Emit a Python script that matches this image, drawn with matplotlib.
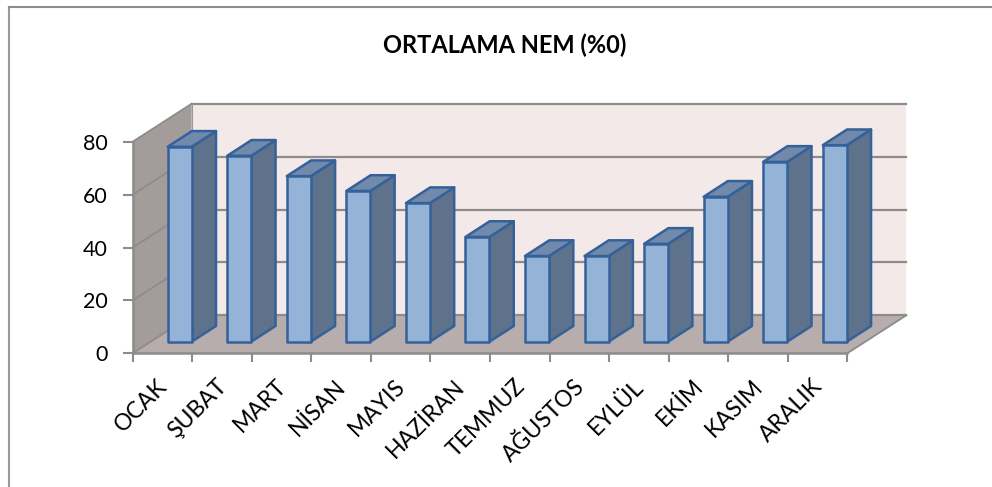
import numpy as np
import matplotlib
matplotlib.use('Agg')
import matplotlib.pyplot as plt
from matplotlib.lines import Line2D
from matplotlib.patches import Polygon

plt.rcParams['font.family'] = ['Lato', 'DejaVu Sans']

aylar = ['OCAK', 'ŞUBAT', 'MART', 'NİSAN', 'MAYIS', 'HAZİRAN',
         'TEMMUZ', 'AĞUSTOS', 'EYLÜL', 'EKİM', 'KASIM', 'ARALIK']
nem = [73.7, 70.3, 62.6, 57, 52.4, 39.6, 32.4, 32.4, 37, 54.8, 68, 74.3]
y_ticks = [0, 20, 40, 60, 80]

W, H = 992, 487
fig = plt.figure(figsize=(W / 100, H / 100), dpi=100)

# pixel box of the front plane of the chart
x0, x1 = 132.7, 847.3
y0, y1 = 353.3, 141.7
ax = fig.add_axes([x0 / W, 1 - y0 / H, (x1 - x0) / W, (y0 - y1) / H])
ax.set_xlim(0, 12)
ax.set_ylim(0, 80)
ax.patch.set_visible(False)
for s in ax.spines.values():
    s.set_visible(False)

# sahte 3B: derinlik kaymasi (kategori / deger biriminde)
px_x = 12 / (x1 - x0)
px_y = 80 / (y0 - y1)
dx = 59 * px_x
dy = 38 * px_y

grey = '#8c8c8c'


def poly(pts, fc, ec='none', lw=0, z=1):
    ax.add_patch(Polygon(pts, closed=True, fc=fc, ec=ec, lw=lw, zorder=z,
                         clip_on=False, joinstyle='round'))


# duvarlar
poly([(0, 0), (dx, dy), (dx, 80 + dy), (0, 80)], '#a39c9a', z=1)
poly([(dx, dy), (12 + dx, dy), (12 + dx, 80 + dy), (dx, 80 + dy)], '#f4e9e9', z=1)
poly([(0, 0), (12, 0), (12 + dx, dy), (dx, dy)], '#b6adac', z=1)

# izgara
for v in y_ticks:
    ax.plot([0, dx], [v, v + dy], color=grey, lw=1.3, zorder=2, clip_on=False)
    ax.plot([dx, 12 + dx], [v + dy, v + dy], color=grey, lw=1.6, zorder=2, clip_on=False)
ax.plot([dx, dx], [dy, 80 + dy], color='#9a9a9a', lw=0.8, zorder=2, clip_on=False)
ax.plot([0, 0], [0, 80], color=grey, lw=1.8, zorder=3, clip_on=False)
ax.plot([0, 12], [0, 0], color=grey, lw=1.8, zorder=3, clip_on=False)
ax.plot([12, 12 + dx], [0, dy], color=grey, lw=1.3, zorder=3, clip_on=False)

# cubuklar
bar_w = 24 * px_x
bar_dx = 24.3 * px_x
bar_dy = 15.7 * px_y
base_x = 35 * px_x
base_y = 11.6 * px_y
edge = '#35619a'
for i, v in enumerate(nem):
    l = i + base_x
    r = l + bar_w
    b = base_y
    t = b + v
    poly([(r, b), (r + bar_dx, b + bar_dy), (r + bar_dx, t + bar_dy), (r, t)],
         '#5f728c', edge, 1.8, 4)
    poly([(l, t), (r, t), (r + bar_dx, t + bar_dy), (l + bar_dx, t + bar_dy)],
         '#718aab', edge, 1.8, 4)
    poly([(l, b), (r, b), (r, t), (l, t)], '#95b3d7', edge, 1.8, 5)

# eksenler
ax.set_yticks(y_ticks)
ax.set_xticks(np.arange(13))
ax.set_xticklabels([])
ax.tick_params(axis='y', length=7, width=1.5, color=grey, labelsize=15.5, pad=11, labelcolor='black')
ax.tick_params(axis='x', length=6.5, width=1.5, color=grey, direction='out')
ax.set_xticks(np.arange(12) + 0.4, labels=aylar, minor=True, rotation=45, ha='right',
              rotation_mode='anchor', fontsize=16.5)
ax.tick_params(axis='x', which='minor', length=0, pad=16)

fig.text(505 / W, 1 - 45 / H, 'ORTALAMA NEM (%0)', fontsize=17, fontweight='bold',
         ha='center', va='center')

# dis cerceve: sadece ust ve sol cizgi gorunuyor
fig.add_artist(Line2D([8.5 / W, 8.5 / W], [0, 1 - 7 / H], transform=fig.transFigure, color='#9a9a9a', lw=1.5))
fig.add_artist(Line2D([8.5 / W, 1], [1 - 7 / H, 1 - 7 / H], transform=fig.transFigure, color=grey, lw=1.5))

fig.savefig('out.png', dpi=100)
